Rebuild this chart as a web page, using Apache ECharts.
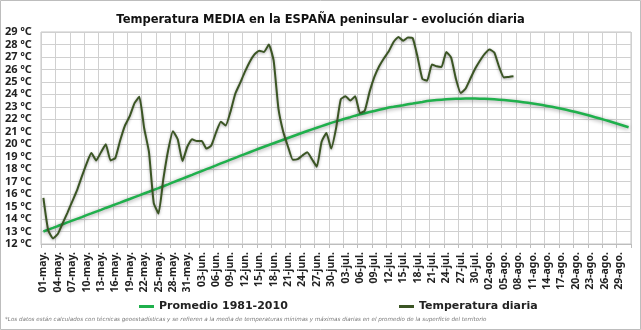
<!DOCTYPE html>
<html>
<head>
<meta charset="utf-8">
<script src="https://cdn.jsdelivr.net/npm/echarts/dist/echarts.min.js"></script>
<style>
  html, body { margin: 0; padding: 0; background: #ffffff; }
  #chart { width: 641px; height: 330px; }
</style>
</head>
<body>
<div id="chart"></div>
<script>
// Day labels from 1 May to 31 August
const monthNames = ['may', 'jun', 'jul', 'ago'];
const monthDays = [31, 30, 31, 31];
const categories = [];
monthNames.forEach((m, k) => {
  for (let d = 1; d <= monthDays[k]; d++) {
    categories.push(String(d).padStart(2, '0') + '-' + m + '.');
  }
});

// Climatological daily mean 1981-2010 (ºC), 1 May .. 31 Aug
const promedio = [
  13.00, 13.15, 13.29, 13.44, 13.58, 13.73, 13.87, 14.02, 14.16, 14.31,
  14.45, 14.60, 14.74, 14.89, 15.03, 15.18, 15.32, 15.47, 15.61, 15.76,
  15.90, 16.05, 16.19, 16.34, 16.48, 16.63, 16.78, 16.94, 17.09, 17.24,
  17.39, 17.54, 17.70, 17.85, 18.00, 18.15, 18.30, 18.46, 18.61, 18.76,
  18.91, 19.06, 19.21, 19.36, 19.51, 19.66, 19.80, 19.94, 20.08, 20.22,
  20.36, 20.50, 20.64, 20.78, 20.92, 21.06, 21.19, 21.32, 21.45, 21.58,
  21.71, 21.83, 21.94, 22.06, 22.17, 22.29, 22.40, 22.49, 22.58, 22.67,
  22.76, 22.85, 22.94, 23.00, 23.07, 23.13, 23.20, 23.26, 23.33, 23.39,
  23.46, 23.50, 23.54, 23.57, 23.60, 23.62, 23.64, 23.65, 23.66, 23.66,
  23.66, 23.65, 23.64, 23.62, 23.60, 23.57, 23.54, 23.50, 23.46, 23.42,
  23.37, 23.32, 23.26, 23.20, 23.14, 23.07, 23.00, 22.93, 22.85, 22.76,
  22.67, 22.58, 22.48, 22.38, 22.28, 22.17, 22.06, 21.95, 21.84, 21.72,
  21.60, 21.48, 21.36
];

// Observed daily mean temperature (ºC), 1 May .. 7 Aug
const diaria = [
  15.70, 13.10, 12.45, 12.80, 13.65, 14.50, 15.40, 16.30, 17.40, 18.45,
  19.30, 18.70, 19.35, 20.00, 18.70, 18.90, 20.30, 21.50, 22.25, 23.30,
  23.80, 21.30, 19.40, 15.30, 14.45, 17.20, 19.50, 21.05, 20.40, 18.65,
  19.80, 20.40, 20.25, 20.25, 19.65, 19.90, 20.95, 21.80, 21.50, 22.60,
  24.05, 24.90, 25.80, 26.60, 27.20, 27.50, 27.40, 28.00, 26.70, 22.85,
  21.00, 19.80, 18.75, 18.80, 19.10, 19.35, 18.80, 18.20, 20.20, 20.90,
  19.65, 21.25, 23.60, 23.85, 23.50, 23.85, 22.50, 22.70, 24.20, 25.40,
  26.25, 26.90, 27.45, 28.20, 28.60, 28.30, 28.55, 28.50, 27.00, 25.25,
  25.10, 26.40, 26.25, 26.20, 27.40, 26.95, 25.25, 24.10, 24.45, 25.25,
  26.05, 26.70, 27.25, 27.60, 27.35, 26.20, 25.35, 25.40, 25.45
];

const seriesNames = ['Promedio 1981-2010', 'Temperatura diaria'];
const titleText = 'Temperatura MEDIA en la ESPAÑA peninsular - evolución diaria';
const noteText = '*Los datos están calculados con técnicas geoestadísticas y se refieren a la media de temperaturas mínimas y máximas diarias en el promedio de la superficie del territorio';

const FONT = '"DejaVu Sans", Verdana, sans-serif';
const AXIS_FONT = '"Noto Sans", "DejaVu Sans", sans-serif';
const chart = echarts.init(document.getElementById('chart'), null, { renderer: 'canvas' });

const legendText = { fontFamily: FONT, fontSize: 11, fontWeight: 'bold', color: '#222' };

chart.setOption({
  animation: false,
  backgroundColor: '#ffffff',
  title: {
    text: titleText,
    left: 'center',
    top: 9,
    textStyle: { fontFamily: FONT, fontSize: 11.5, fontWeight: 'bold', color: '#111' }
  },
  legend: [
    {
      data: [seriesNames[0]],
      left: 134, top: 296,
      icon: 'rect', itemWidth: 15, itemHeight: 3, itemGap: 4,
      textStyle: legendText
    },
    {
      data: [seriesNames[1]],
      left: 394, top: 296,
      icon: 'rect', itemWidth: 15, itemHeight: 3, itemGap: 4,
      textStyle: legendText
    }
  ],
  grid: {
    left: 41, right: 10, top: 32, bottom: 86,
    show: true, borderColor: '#c4c4c4', borderWidth: 1
  },
  xAxis: {
    type: 'category',
    data: categories,
    boundaryGap: true,
    axisLine: { lineStyle: { color: '#bdbdbd' } },
    axisTick: { show: true, interval: 2, length: 4, lineStyle: { color: '#bdbdbd' } },
    axisLabel: {
      interval: 2, rotate: 90, margin: 8,
      fontFamily: AXIS_FONT, fontSize: 10.5, fontWeight: 'bold', color: '#222'
    },
    splitLine: { show: true, interval: 2, lineStyle: { color: '#d0d0d0', width: 1 } }
  },
  yAxis: {
    type: 'value',
    min: 12, max: 29, interval: 1,
    axisLine: { show: false },
    axisTick: { show: false },
    axisLabel: {
      formatter: '{value} ºC', align: 'left', margin: 36,
      fontFamily: AXIS_FONT, fontSize: 11, fontWeight: 'bold', color: '#222'
    },
    splitLine: { lineStyle: { color: '#d0d0d0', width: 1 } }
  },
  series: [
    {
      name: seriesNames[0],
      type: 'line',
      data: promedio,
      symbol: 'none',
      color: '#1fb04c',
      lineStyle: {
        color: '#1fb04c', width: 2.5,
        shadowColor: 'rgba(0,0,0,0.4)', shadowBlur: 4, shadowOffsetY: 1
      },
      z: 2
    },
    {
      name: seriesNames[1],
      type: 'line',
      data: diaria,
      symbol: 'none',
      smooth: 0.15,
      color: '#3b5524',
      lineStyle: {
        color: '#3b5524', width: 2,
        shadowColor: 'rgba(0,0,0,0.35)', shadowBlur: 3, shadowOffsetY: 1
      },
      z: 3
    }
  ],
  graphic: [
    {
      type: 'text',
      left: 5, top: 317,
      style: {
        text: noteText,
        font: 'italic 5.6px ' + FONT,
        fill: '#7a7a7a'
      }
    },
    {
      type: 'rect',
      shape: { x: 0.5, y: 0.5, width: 640, height: 329 },
      style: { fill: 'none', stroke: '#bdbdbd', lineWidth: 1 },
      silent: true
    }
  ]
});
</script>
</body>
</html>
